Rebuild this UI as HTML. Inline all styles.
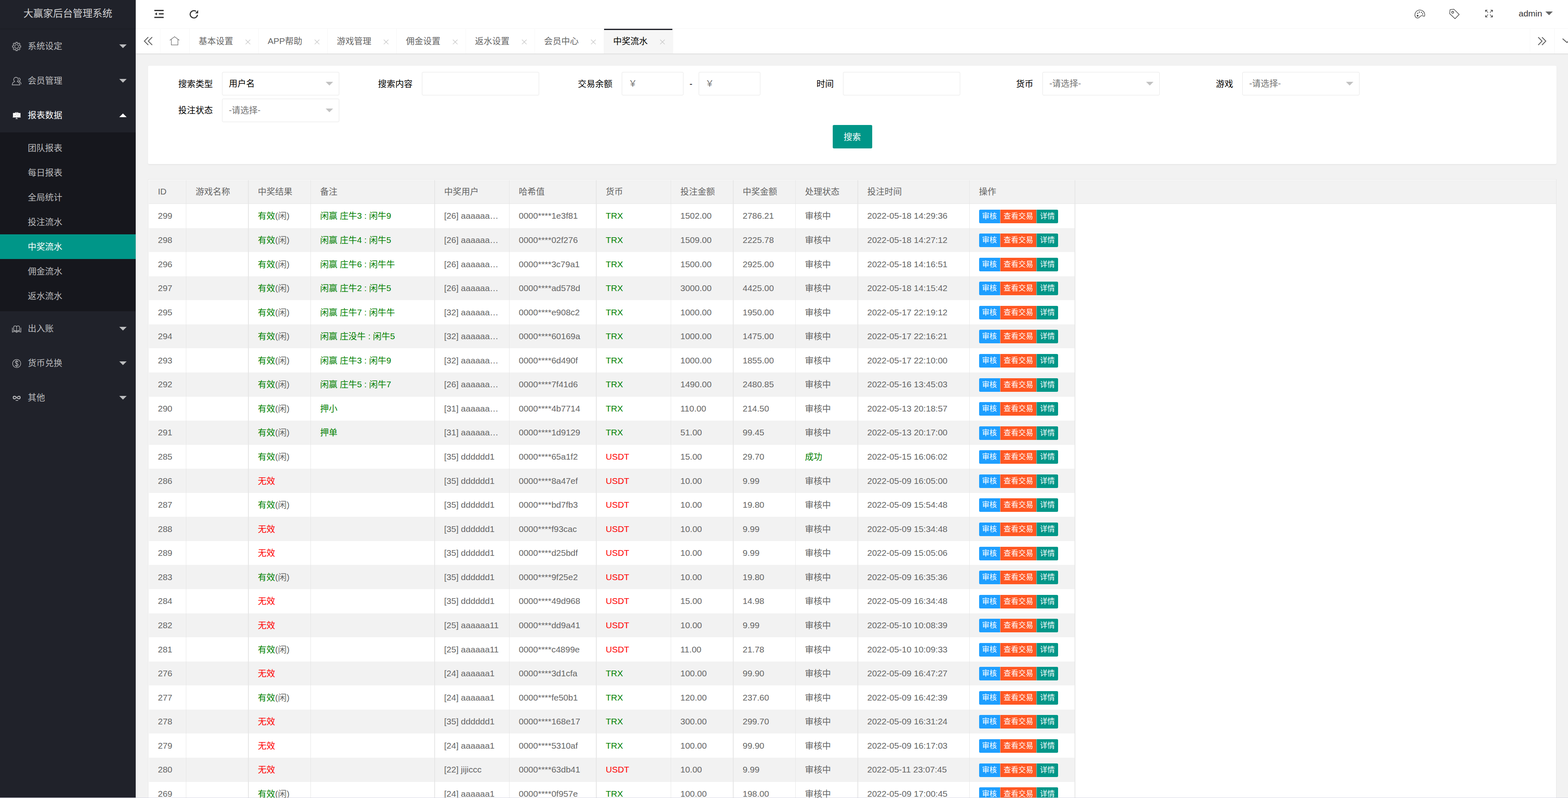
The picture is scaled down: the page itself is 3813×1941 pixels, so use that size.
<!DOCTYPE html>
<html lang="zh">
<head>
<meta charset="utf-8">
<title>大赢家后台管理系统</title>
<style>
html,body{margin:0;padding:0}
body{width:3813px;height:1941px;overflow:hidden;position:relative;background:#f2f2f2;font-family:"Liberation Sans","Noto Sans CJK SC",sans-serif}
#wrap{position:absolute;left:0;top:-5px;width:3840px;height:1950px}
#root{position:absolute;left:0;top:0;width:2560px;height:1300px;zoom:1.5;font-size:14px;line-height:24px;color:#333;background:#f2f2f2;overflow:hidden}
#root *{box-sizing:border-box}
a{text-decoration:none;color:inherit}
/* side */
#side{position:absolute;left:0;top:0;width:220px;height:1300px;background:#20222a;z-index:5;box-shadow:1px 0 2px 0 rgba(0,0,0,.05)}
#logo{position:absolute;left:0;top:0;width:220px;height:49px;line-height:50px;text-align:center;color:rgba(255,255,255,.8);font-size:16px;box-shadow:0 1px 2px 0 rgba(0,0,0,.15);background:#20222a;z-index:2}
.ni{position:absolute;left:0;width:220px;height:56px;line-height:56px;color:rgba(255,255,255,.7);font-size:14px}
.ni span{position:absolute;left:45px;top:0;white-space:nowrap}
.ni i{position:absolute;right:15px;top:50%;margin-top:-3px;width:0;height:0;border:6px solid transparent;border-top-color:rgba(255,255,255,.7)}
.ni.on{color:#fff}
.ni.on i{margin-top:-9px;border-top-color:transparent;border-bottom-color:#fff}
#child{position:absolute;left:0;top:218px;width:220px;height:290px;background:rgba(0,0,0,.3)}
.ci{position:absolute;left:0;width:220px;height:40px;line-height:40px;padding-left:45px;color:rgba(255,255,255,.7);white-space:nowrap}
.ci.on{background:#009688;color:#fff}
/* header */
#hd{position:absolute;left:220px;top:0;width:2340px;height:50px;background:#fff;border-bottom:1px solid #f6f6f6;z-index:3}
#admin{position:absolute;left:2242px;top:0;line-height:50px;color:#333;font-size:14px}
#acaret{position:absolute;left:2285.3px;top:22px;width:0;height:0;border:6px solid transparent;border-top-color:#666}
/* tabs */
#tabs{position:absolute;left:220px;top:50px;width:2340px;height:40px;background:#fff;box-shadow:0 1px 2px 0 rgba(0,0,0,.1);z-index:2}
.tc{position:absolute;top:0;width:40px;height:40px}
.tb{position:absolute;top:0;height:40px;line-height:40px;border-right:1px solid #f6f6f6;color:#666;white-space:nowrap;padding-left:15px;width:112px}
.tb.on{background:#f6f6f6;color:#000}
.tb.on:after{content:"";position:absolute;left:0;top:0;width:111px;height:2px;background:#20222a}
/* form card */
#card{position:absolute;left:240px;top:110px;width:2283.33px;height:159px;background:#fff;border-radius:2px;box-shadow:0 1px 2px 0 rgba(0,0,0,.05)}
.lb{position:absolute;width:110px;height:38px;line-height:20px;padding:9px 15px;text-align:right;color:#000;white-space:nowrap}
.ip{position:absolute;height:38px;line-height:36px;border:1px solid #e6e6e6;border-radius:2px;background:#fff;padding-left:10.3334px;color:#000;white-space:nowrap}
.ip.ph{color:#757575}
.ip b{position:absolute;right:9.3334px;top:50%;margin-top:-3px;width:0;height:0;border:6px solid transparent;border-top-color:#c2c2c2}
#sbtn{position:absolute;left:1109.67px;top:96px;width:64px;height:38px;line-height:38px;background:#009688;color:#fff;text-align:center;border-radius:2px;white-space:nowrap}
/* table */
#tv{position:absolute;left:240px;top:294px;width:2283px;height:1100px;border:1px solid #e6e6e6;padding:.3334px 0 0 .3334px;background:#fff;overflow:hidden}
#th{background:#f2f2f2;border-bottom:1px solid #e6e6e6;padding-bottom:.3334px;overflow:hidden}
#th table{margin-bottom:-1px}
table{border-collapse:separate;border-spacing:0;color:#666;font-size:14px}
td,th{padding:5px .3334px 6px 0;border:0 solid #e6e6e6;border-right-width:1px;font-weight:400;text-align:left;line-height:20px}
td:nth-child(even),th:nth-child(even){box-shadow:inset -.6667px 0 0 #e6e6e6}
.c{height:28px;line-height:28px;padding:0 15px;overflow:hidden;white-space:nowrap}
#tbody tr:nth-child(even){background:#f2f2f2}
#tbody td{padding:5.5834px .3334px 5.4584px 0}
.g{color:#008000}.r{color:#ff0000}
.bg{display:inline-block;vertical-align:middle;font-size:0;white-space:nowrap;position:relative;top:-.449px}
.b{display:inline-block;vertical-align:middle;height:22px;line-height:22px;padding:0 5px;font-size:12px;color:#fff;background:#009688;white-space:nowrap}
.b1{background:#1e9fff;border-radius:2px 0 0 2px}
.b2{background:#ff5722;border-left:1px solid rgba(255,255,255,.5);padding-left:5.3334px}
.b3{border-left:1px solid rgba(255,255,255,.5);padding-left:5.3334px;border-radius:0 2px 2px 0}
.w0{width:60px}.w1{width:100px}.w2{width:100px}.w3{width:200px}.w4{width:120px}.w5{width:140px}.w6{width:120px}.w7{width:100px}.w8{width:100px}.w9{width:100px}.w10{width:180px}.w11{width:170px}
</style>
</head>
<body>
<div id="wrap"><div id="root">

<div id="side">
  <div id="logo">大赢家后台管理系统</div>
  <div class="ni" style="top:50px"><span>系统设定</span><i></i></div>
  <div class="ni" style="top:106px"><span>会员管理</span><i></i></div>
  <div class="ni on" style="top:162px"><span>报表数据</span><i></i></div>
  <div id="child">
    <div class="ci" style="top:5px">团队报表</div>
    <div class="ci" style="top:45px">每日报表</div>
    <div class="ci" style="top:85px">全局统计</div>
    <div class="ci" style="top:125px">投注流水</div>
    <div class="ci on" style="top:165px">中奖流水</div>
    <div class="ci" style="top:205px">佣金流水</div>
    <div class="ci" style="top:245px">返水流水</div>
  </div>
  <div class="ni" style="top:508px"><span>出入账</span><i></i></div>
  <div class="ni" style="top:564px"><span>货币兑换</span><i></i></div>
  <div class="ni" style="top:620px"><span>其他</span><i></i></div>
  <!--SIDEICONS-->
</div>

<div id="hd">
  <!--HDICONS-->
  <div id="admin">admin</div>
  <div id="acaret"></div>
</div>

<div id="tabs">
  <div class="tc" style="left:0;border-right:1px solid #f6f6f6"></div>
  <div class="tb" style="left:40px;width:47px"></div>
  <div class="tb" style="left:87px">基本设置</div>
  <div class="tb" style="left:199px">APP帮助</div>
  <div class="tb" style="left:311px">游戏管理</div>
  <div class="tb" style="left:423px">佣金设置</div>
  <div class="tb" style="left:535px">返水设置</div>
  <div class="tb" style="left:647px">会员中心</div>
  <div class="tb on" style="left:759px">中奖流水</div>
  <div class="tc" style="left:2260px;border-left:1px solid #f6f6f6"></div>
  <div class="tc" style="left:2300px;border-left:1px solid #f6f6f6"></div>
  <!--TABICONS-->
</div>

<div id="card">
  <div class="lb" style="left:10px;top:10px">搜索类型</div>
  <div class="ip" style="left:120px;top:10px;width:190px">用户名<b></b></div>
  <div class="lb" style="left:333.89px;top:10px">搜索内容</div>
  <div class="ip" style="left:443.89px;top:10px;width:190px"></div>
  <div class="lb" style="left:657.78px;top:10px">交易余额</div>
  <div class="ip ph" style="left:767.78px;top:10px;width:100px">￥</div>
  <div class="lb" style="left:877.78px;top:10.5px;width:auto;padding:9px 0;color:#000">-</div>
  <div class="ip ph" style="left:892.44px;top:10px;width:100px">￥</div>
  <div class="lb" style="left:1016.68px;top:10px">时间</div>
  <div class="ip" style="left:1126.68px;top:10px;width:190px"></div>
  <div class="lb" style="left:1340.22px;top:10px">货币</div>
  <div class="ip ph" style="left:1450.22px;top:10px;width:190px">-请选择-<b></b></div>
  <div class="lb" style="left:1664.11px;top:10px">游戏</div>
  <div class="ip ph" style="left:1774.11px;top:10px;width:190px">-请选择-<b></b></div>
  <div class="lb" style="left:10px;top:53px">投注状态</div>
  <div class="ip ph" style="left:120px;top:53px;width:190px">-请选择-<b></b></div>
  <div id="sbtn">搜索</div>
</div>

<div id="tv">
  <div id="th"><table><thead><tr><th><div class="c w0">ID</div></th><th><div class="c w1">游戏名称</div></th><th><div class="c w2">中奖结果</div></th><th><div class="c w3">备注</div></th><th><div class="c w4">中奖用户</div></th><th><div class="c w5">哈希值</div></th><th><div class="c w6">货币</div></th><th><div class="c w7">投注金额</div></th><th><div class="c w8">中奖金额</div></th><th><div class="c w9">处理状态</div></th><th><div class="c w10">投注时间</div></th><th><div class="c w11">操作</div></th></tr></thead></table></div>
  <div id="tb"><table><tbody id="tbody">
<tr><td><div class="c w0">299</div></td><td><div class="c w1"></div></td><td><div class="c w2"><span class="g">有效</span>(闲)</div></td><td><div class="c w3"><span class="g">闲赢 庄牛3 : 闲牛9</span></div></td><td><div class="c w4">[26] aaaaaa…</div></td><td><div class="c w5">0000****1e3f81</div></td><td><div class="c w6"><span class="g">TRX</span></div></td><td><div class="c w7">1502.00</div></td><td><div class="c w8">2786.21</div></td><td><div class="c w9">审核中</div></td><td><div class="c w10">2022-05-18 14:29:36</div></td><td><div class="c w11"><div class="bg"><a class="b b1">审核</a><a class="b b2">查看交易</a><a class="b b3">详情</a></div></div></td></tr>
<tr><td><div class="c w0">298</div></td><td><div class="c w1"></div></td><td><div class="c w2"><span class="g">有效</span>(闲)</div></td><td><div class="c w3"><span class="g">闲赢 庄牛4 : 闲牛5</span></div></td><td><div class="c w4">[26] aaaaaa…</div></td><td><div class="c w5">0000****02f276</div></td><td><div class="c w6"><span class="g">TRX</span></div></td><td><div class="c w7">1509.00</div></td><td><div class="c w8">2225.78</div></td><td><div class="c w9">审核中</div></td><td><div class="c w10">2022-05-18 14:27:12</div></td><td><div class="c w11"><div class="bg"><a class="b b1">审核</a><a class="b b2">查看交易</a><a class="b b3">详情</a></div></div></td></tr>
<tr><td><div class="c w0">296</div></td><td><div class="c w1"></div></td><td><div class="c w2"><span class="g">有效</span>(闲)</div></td><td><div class="c w3"><span class="g">闲赢 庄牛6 : 闲牛牛</span></div></td><td><div class="c w4">[26] aaaaaa…</div></td><td><div class="c w5">0000****3c79a1</div></td><td><div class="c w6"><span class="g">TRX</span></div></td><td><div class="c w7">1500.00</div></td><td><div class="c w8">2925.00</div></td><td><div class="c w9">审核中</div></td><td><div class="c w10">2022-05-18 14:16:51</div></td><td><div class="c w11"><div class="bg"><a class="b b1">审核</a><a class="b b2">查看交易</a><a class="b b3">详情</a></div></div></td></tr>
<tr><td><div class="c w0">297</div></td><td><div class="c w1"></div></td><td><div class="c w2"><span class="g">有效</span>(闲)</div></td><td><div class="c w3"><span class="g">闲赢 庄牛2 : 闲牛5</span></div></td><td><div class="c w4">[26] aaaaaa…</div></td><td><div class="c w5">0000****ad578d</div></td><td><div class="c w6"><span class="g">TRX</span></div></td><td><div class="c w7">3000.00</div></td><td><div class="c w8">4425.00</div></td><td><div class="c w9">审核中</div></td><td><div class="c w10">2022-05-18 14:15:42</div></td><td><div class="c w11"><div class="bg"><a class="b b1">审核</a><a class="b b2">查看交易</a><a class="b b3">详情</a></div></div></td></tr>
<tr><td><div class="c w0">295</div></td><td><div class="c w1"></div></td><td><div class="c w2"><span class="g">有效</span>(闲)</div></td><td><div class="c w3"><span class="g">闲赢 庄牛7 : 闲牛牛</span></div></td><td><div class="c w4">[32] aaaaaa…</div></td><td><div class="c w5">0000****e908c2</div></td><td><div class="c w6"><span class="g">TRX</span></div></td><td><div class="c w7">1000.00</div></td><td><div class="c w8">1950.00</div></td><td><div class="c w9">审核中</div></td><td><div class="c w10">2022-05-17 22:19:12</div></td><td><div class="c w11"><div class="bg"><a class="b b1">审核</a><a class="b b2">查看交易</a><a class="b b3">详情</a></div></div></td></tr>
<tr><td><div class="c w0">294</div></td><td><div class="c w1"></div></td><td><div class="c w2"><span class="g">有效</span>(闲)</div></td><td><div class="c w3"><span class="g">闲赢 庄没牛 : 闲牛5</span></div></td><td><div class="c w4">[32] aaaaaa…</div></td><td><div class="c w5">0000****60169a</div></td><td><div class="c w6"><span class="g">TRX</span></div></td><td><div class="c w7">1000.00</div></td><td><div class="c w8">1475.00</div></td><td><div class="c w9">审核中</div></td><td><div class="c w10">2022-05-17 22:16:21</div></td><td><div class="c w11"><div class="bg"><a class="b b1">审核</a><a class="b b2">查看交易</a><a class="b b3">详情</a></div></div></td></tr>
<tr><td><div class="c w0">293</div></td><td><div class="c w1"></div></td><td><div class="c w2"><span class="g">有效</span>(闲)</div></td><td><div class="c w3"><span class="g">闲赢 庄牛3 : 闲牛9</span></div></td><td><div class="c w4">[32] aaaaaa…</div></td><td><div class="c w5">0000****6d490f</div></td><td><div class="c w6"><span class="g">TRX</span></div></td><td><div class="c w7">1000.00</div></td><td><div class="c w8">1855.00</div></td><td><div class="c w9">审核中</div></td><td><div class="c w10">2022-05-17 22:10:00</div></td><td><div class="c w11"><div class="bg"><a class="b b1">审核</a><a class="b b2">查看交易</a><a class="b b3">详情</a></div></div></td></tr>
<tr><td><div class="c w0">292</div></td><td><div class="c w1"></div></td><td><div class="c w2"><span class="g">有效</span>(闲)</div></td><td><div class="c w3"><span class="g">闲赢 庄牛5 : 闲牛7</span></div></td><td><div class="c w4">[26] aaaaaa…</div></td><td><div class="c w5">0000****7f41d6</div></td><td><div class="c w6"><span class="g">TRX</span></div></td><td><div class="c w7">1490.00</div></td><td><div class="c w8">2480.85</div></td><td><div class="c w9">审核中</div></td><td><div class="c w10">2022-05-16 13:45:03</div></td><td><div class="c w11"><div class="bg"><a class="b b1">审核</a><a class="b b2">查看交易</a><a class="b b3">详情</a></div></div></td></tr>
<tr><td><div class="c w0">290</div></td><td><div class="c w1"></div></td><td><div class="c w2"><span class="g">有效</span>(闲)</div></td><td><div class="c w3"><span class="g">押小</span></div></td><td><div class="c w4">[31] aaaaaa…</div></td><td><div class="c w5">0000****4b7714</div></td><td><div class="c w6"><span class="g">TRX</span></div></td><td><div class="c w7">110.00</div></td><td><div class="c w8">214.50</div></td><td><div class="c w9">审核中</div></td><td><div class="c w10">2022-05-13 20:18:57</div></td><td><div class="c w11"><div class="bg"><a class="b b1">审核</a><a class="b b2">查看交易</a><a class="b b3">详情</a></div></div></td></tr>
<tr><td><div class="c w0">291</div></td><td><div class="c w1"></div></td><td><div class="c w2"><span class="g">有效</span>(闲)</div></td><td><div class="c w3"><span class="g">押单</span></div></td><td><div class="c w4">[31] aaaaaa…</div></td><td><div class="c w5">0000****1d9129</div></td><td><div class="c w6"><span class="g">TRX</span></div></td><td><div class="c w7">51.00</div></td><td><div class="c w8">99.45</div></td><td><div class="c w9">审核中</div></td><td><div class="c w10">2022-05-13 20:17:00</div></td><td><div class="c w11"><div class="bg"><a class="b b1">审核</a><a class="b b2">查看交易</a><a class="b b3">详情</a></div></div></td></tr>
<tr><td><div class="c w0">285</div></td><td><div class="c w1"></div></td><td><div class="c w2"><span class="g">有效</span>(闲)</div></td><td><div class="c w3"></div></td><td><div class="c w4">[35] dddddd1</div></td><td><div class="c w5">0000****65a1f2</div></td><td><div class="c w6"><span class="r">USDT</span></div></td><td><div class="c w7">15.00</div></td><td><div class="c w8">29.70</div></td><td><div class="c w9"><span class="g">成功</span></div></td><td><div class="c w10">2022-05-15 16:06:02</div></td><td><div class="c w11"><div class="bg"><a class="b b1">审核</a><a class="b b2">查看交易</a><a class="b b3">详情</a></div></div></td></tr>
<tr><td><div class="c w0">286</div></td><td><div class="c w1"></div></td><td><div class="c w2"><span class="r">无效</span></div></td><td><div class="c w3"></div></td><td><div class="c w4">[35] dddddd1</div></td><td><div class="c w5">0000****8a47ef</div></td><td><div class="c w6"><span class="r">USDT</span></div></td><td><div class="c w7">10.00</div></td><td><div class="c w8">9.99</div></td><td><div class="c w9">审核中</div></td><td><div class="c w10">2022-05-09 16:05:00</div></td><td><div class="c w11"><div class="bg"><a class="b b1">审核</a><a class="b b2">查看交易</a><a class="b b3">详情</a></div></div></td></tr>
<tr><td><div class="c w0">287</div></td><td><div class="c w1"></div></td><td><div class="c w2"><span class="g">有效</span>(闲)</div></td><td><div class="c w3"></div></td><td><div class="c w4">[35] dddddd1</div></td><td><div class="c w5">0000****bd7fb3</div></td><td><div class="c w6"><span class="r">USDT</span></div></td><td><div class="c w7">10.00</div></td><td><div class="c w8">19.80</div></td><td><div class="c w9">审核中</div></td><td><div class="c w10">2022-05-09 15:54:48</div></td><td><div class="c w11"><div class="bg"><a class="b b1">审核</a><a class="b b2">查看交易</a><a class="b b3">详情</a></div></div></td></tr>
<tr><td><div class="c w0">288</div></td><td><div class="c w1"></div></td><td><div class="c w2"><span class="r">无效</span></div></td><td><div class="c w3"></div></td><td><div class="c w4">[35] dddddd1</div></td><td><div class="c w5">0000****f93cac</div></td><td><div class="c w6"><span class="r">USDT</span></div></td><td><div class="c w7">10.00</div></td><td><div class="c w8">9.99</div></td><td><div class="c w9">审核中</div></td><td><div class="c w10">2022-05-09 15:34:48</div></td><td><div class="c w11"><div class="bg"><a class="b b1">审核</a><a class="b b2">查看交易</a><a class="b b3">详情</a></div></div></td></tr>
<tr><td><div class="c w0">289</div></td><td><div class="c w1"></div></td><td><div class="c w2"><span class="r">无效</span></div></td><td><div class="c w3"></div></td><td><div class="c w4">[35] dddddd1</div></td><td><div class="c w5">0000****d25bdf</div></td><td><div class="c w6"><span class="r">USDT</span></div></td><td><div class="c w7">10.00</div></td><td><div class="c w8">9.99</div></td><td><div class="c w9">审核中</div></td><td><div class="c w10">2022-05-09 15:05:06</div></td><td><div class="c w11"><div class="bg"><a class="b b1">审核</a><a class="b b2">查看交易</a><a class="b b3">详情</a></div></div></td></tr>
<tr><td><div class="c w0">283</div></td><td><div class="c w1"></div></td><td><div class="c w2"><span class="g">有效</span>(闲)</div></td><td><div class="c w3"></div></td><td><div class="c w4">[35] dddddd1</div></td><td><div class="c w5">0000****9f25e2</div></td><td><div class="c w6"><span class="r">USDT</span></div></td><td><div class="c w7">10.00</div></td><td><div class="c w8">19.80</div></td><td><div class="c w9">审核中</div></td><td><div class="c w10">2022-05-09 16:35:36</div></td><td><div class="c w11"><div class="bg"><a class="b b1">审核</a><a class="b b2">查看交易</a><a class="b b3">详情</a></div></div></td></tr>
<tr><td><div class="c w0">284</div></td><td><div class="c w1"></div></td><td><div class="c w2"><span class="r">无效</span></div></td><td><div class="c w3"></div></td><td><div class="c w4">[35] dddddd1</div></td><td><div class="c w5">0000****49d968</div></td><td><div class="c w6"><span class="r">USDT</span></div></td><td><div class="c w7">15.00</div></td><td><div class="c w8">14.98</div></td><td><div class="c w9">审核中</div></td><td><div class="c w10">2022-05-09 16:34:48</div></td><td><div class="c w11"><div class="bg"><a class="b b1">审核</a><a class="b b2">查看交易</a><a class="b b3">详情</a></div></div></td></tr>
<tr><td><div class="c w0">282</div></td><td><div class="c w1"></div></td><td><div class="c w2"><span class="r">无效</span></div></td><td><div class="c w3"></div></td><td><div class="c w4">[25] aaaaaa11</div></td><td><div class="c w5">0000****dd9a41</div></td><td><div class="c w6"><span class="r">USDT</span></div></td><td><div class="c w7">10.00</div></td><td><div class="c w8">9.99</div></td><td><div class="c w9">审核中</div></td><td><div class="c w10">2022-05-10 10:08:39</div></td><td><div class="c w11"><div class="bg"><a class="b b1">审核</a><a class="b b2">查看交易</a><a class="b b3">详情</a></div></div></td></tr>
<tr><td><div class="c w0">281</div></td><td><div class="c w1"></div></td><td><div class="c w2"><span class="g">有效</span>(闲)</div></td><td><div class="c w3"></div></td><td><div class="c w4">[25] aaaaaa11</div></td><td><div class="c w5">0000****c4899e</div></td><td><div class="c w6"><span class="r">USDT</span></div></td><td><div class="c w7">11.00</div></td><td><div class="c w8">21.78</div></td><td><div class="c w9">审核中</div></td><td><div class="c w10">2022-05-10 10:09:33</div></td><td><div class="c w11"><div class="bg"><a class="b b1">审核</a><a class="b b2">查看交易</a><a class="b b3">详情</a></div></div></td></tr>
<tr><td><div class="c w0">276</div></td><td><div class="c w1"></div></td><td><div class="c w2"><span class="r">无效</span></div></td><td><div class="c w3"></div></td><td><div class="c w4">[24] aaaaaa1</div></td><td><div class="c w5">0000****3d1cfa</div></td><td><div class="c w6"><span class="g">TRX</span></div></td><td><div class="c w7">100.00</div></td><td><div class="c w8">99.90</div></td><td><div class="c w9">审核中</div></td><td><div class="c w10">2022-05-09 16:47:27</div></td><td><div class="c w11"><div class="bg"><a class="b b1">审核</a><a class="b b2">查看交易</a><a class="b b3">详情</a></div></div></td></tr>
<tr><td><div class="c w0">277</div></td><td><div class="c w1"></div></td><td><div class="c w2"><span class="g">有效</span>(闲)</div></td><td><div class="c w3"></div></td><td><div class="c w4">[24] aaaaaa1</div></td><td><div class="c w5">0000****fe50b1</div></td><td><div class="c w6"><span class="g">TRX</span></div></td><td><div class="c w7">120.00</div></td><td><div class="c w8">237.60</div></td><td><div class="c w9">审核中</div></td><td><div class="c w10">2022-05-09 16:42:39</div></td><td><div class="c w11"><div class="bg"><a class="b b1">审核</a><a class="b b2">查看交易</a><a class="b b3">详情</a></div></div></td></tr>
<tr><td><div class="c w0">278</div></td><td><div class="c w1"></div></td><td><div class="c w2"><span class="r">无效</span></div></td><td><div class="c w3"></div></td><td><div class="c w4">[35] dddddd1</div></td><td><div class="c w5">0000****168e17</div></td><td><div class="c w6"><span class="g">TRX</span></div></td><td><div class="c w7">300.00</div></td><td><div class="c w8">299.70</div></td><td><div class="c w9">审核中</div></td><td><div class="c w10">2022-05-09 16:31:24</div></td><td><div class="c w11"><div class="bg"><a class="b b1">审核</a><a class="b b2">查看交易</a><a class="b b3">详情</a></div></div></td></tr>
<tr><td><div class="c w0">279</div></td><td><div class="c w1"></div></td><td><div class="c w2"><span class="r">无效</span></div></td><td><div class="c w3"></div></td><td><div class="c w4">[24] aaaaaa1</div></td><td><div class="c w5">0000****5310af</div></td><td><div class="c w6"><span class="g">TRX</span></div></td><td><div class="c w7">100.00</div></td><td><div class="c w8">99.90</div></td><td><div class="c w9">审核中</div></td><td><div class="c w10">2022-05-09 16:17:03</div></td><td><div class="c w11"><div class="bg"><a class="b b1">审核</a><a class="b b2">查看交易</a><a class="b b3">详情</a></div></div></td></tr>
<tr><td><div class="c w0">280</div></td><td><div class="c w1"></div></td><td><div class="c w2"><span class="r">无效</span></div></td><td><div class="c w3"></div></td><td><div class="c w4">[22] jijiccc</div></td><td><div class="c w5">0000****63db41</div></td><td><div class="c w6"><span class="r">USDT</span></div></td><td><div class="c w7">10.00</div></td><td><div class="c w8">9.99</div></td><td><div class="c w9">审核中</div></td><td><div class="c w10">2022-05-11 23:07:45</div></td><td><div class="c w11"><div class="bg"><a class="b b1">审核</a><a class="b b2">查看交易</a><a class="b b3">详情</a></div></div></td></tr>
<tr><td><div class="c w0">269</div></td><td><div class="c w1"></div></td><td><div class="c w2"><span class="g">有效</span>(闲)</div></td><td><div class="c w3"></div></td><td><div class="c w4">[24] aaaaaa1</div></td><td><div class="c w5">0000****0f957e</div></td><td><div class="c w6"><span class="g">TRX</span></div></td><td><div class="c w7">100.00</div></td><td><div class="c w8">198.00</div></td><td><div class="c w9">审核中</div></td><td><div class="c w10">2022-05-09 17:00:45</div></td><td><div class="c w11"><div class="bg"><a class="b b1">审核</a><a class="b b2">查看交易</a><a class="b b3">详情</a></div></div></td></tr>
  </tbody></table></div>
</div>

</div></div>
<svg id="ic" width="3813" height="1941" viewBox="0 0 3813 1941" style="position:absolute;left:0;top:0;z-index:10"><g fill="none" stroke="#bcbdbf" stroke-width="1.35" stroke-linejoin="round" stroke-linecap="round"><path d="M38.43 105.76 L38.43 102.99 L42.37 102.99 L42.37 105.76 L44.20 106.52 L46.16 104.56 L48.94 107.34 L46.98 109.30 L47.74 111.13 L50.51 111.13 L50.51 115.07 L47.74 115.07 L46.98 116.90 L48.94 118.86 L46.16 121.64 L44.20 119.68 L42.37 120.44 L42.37 123.21 L38.43 123.21 L38.43 120.44 L36.60 119.68 L34.64 121.64 L31.86 118.86 L33.82 116.90 L33.06 115.07 L30.29 115.07 L30.29 111.13 L33.06 111.13 L33.82 109.30 L31.86 107.34 L34.64 104.56 L36.60 106.52Z"/><circle cx="40.4" cy="113.1" r="4.5"/><path d="M35.9 198.3 A5.6 5.6 0 1 1 41.9 198.3 C45.5 199.3 48 202.5 48.3 206.5 L29.5 206.5 C29.8 202.5 32.3 199.3 35.9 198.3Z"/><path d="M45.6 189.6 C48 190.3 49.2 192 49.2 193.6 C49.2 195.3 48 196.8 46.2 197.6 C49 198.6 51 201.2 51.4 204.4"/><path d="M40.4 796 C40.4 793.6 38.8 792.6 37 792.6 C34.6 792.6 33.3 794 33.3 796 L33.3 804.3 C36.3 803.6 38.6 804.3 40.4 806 C42.2 804.3 44.5 803.6 47.5 804.3 L47.5 796 C47.5 794 46.2 792.6 43.8 792.6 C42 792.6 40.4 793.6 40.4 796 L40.4 806"/><path d="M30.1 797.4 L30.1 808 C34 805.6 38 806 40.4 808.8 C42.8 806 46.8 805.6 50.7 808 L50.7 797.4"/><circle cx="40.6" cy="884.3" r="9.9"/><path d="M44 880.6 C43.6 878.9 42.2 878.2 40.6 878.2 C38.6 878.2 37.2 879.3 37.2 881 C37.2 885 44.2 883.4 44.2 887.6 C44.2 889.4 42.6 890.5 40.6 890.5 C38.8 890.5 37.3 889.6 37 887.8 M40.6 876.8 L40.6 892"/></g><g fill="none" stroke="#bcbdbf" stroke-width="2.1" stroke-linejoin="round" stroke-linecap="round"><path d="M40.6 967 C38.6 964.8 37 963.9 35 963.9 C33.2 963.9 32.1 965.3 32.1 967 C32.1 968.7 33.2 970.1 35 970.1 C36.6 970.1 37.6 969.4 38.6 968.4 M40.6 967 C42.6 969.2 44.2 970.1 46.2 970.1 C48 970.1 49.1 968.7 49.1 967 C49.1 965.3 48 963.9 46.2 963.9 C44.6 963.9 43.6 964.6 42.6 965.6"/></g><rect x="38.1" y="973.2" width="6.1" height="1.6" fill="#bcbdbf"/><g fill="#fff"><rect x="31.6" y="274.8" width="18.2" height="9.8"/><rect x="30.9" y="284.4" width="19.4" height="1.4"/><path d="M36.8 274.8 L36.8 273.1 L44.4 273.1 L44.4 274.8 L43.4 274.8 L43.4 274 L37.8 274 L37.8 274.8Z"/><rect x="39.8" y="285.7" width="1.2" height="2.7"/><rect x="37.9" y="288.2" width="5.2" height="1.1"/></g><path d="M34.7 280.2 L37.2 281.6 L40.8 278.3 L43.3 280.6 L45.8 277.9" fill="none" stroke="#777" stroke-width="0.7"/><g fill="#333"><rect x="375.3" y="24" width="22.7" height="3"/><rect x="386.2" y="32.2" width="11.8" height="3"/><rect x="375.3" y="40.8" width="22.7" height="3"/><path d="M381.8 30.2 L381.8 37.4 L376.4 33.8Z"/></g><path d="M476.6 27.6 A8.9 8.9 0 1 0 480.2 36" fill="none" stroke="#333" stroke-width="2.6"/><path d="M474.6 32.4 L481.8 32.4 L481.8 24.6Z" fill="#333"/><g fill="none" stroke="#333" stroke-width="1.3" stroke-linejoin="round" stroke-linecap="round"><path d="M3452.6 24.4 C3459.5 24.4 3464.6 29.6 3464.7 36 C3464.7 38 3464 39.8 3463 39.7 C3461.4 39.4 3459.6 37.6 3457.3 37.8 C3454.2 38.1 3452.8 41.4 3450.6 42.8 C3448.6 44.1 3445.6 44.2 3443.4 42.4 C3441.3 40.7 3440.7 38.6 3440.7 36.4 C3440.8 29.6 3446 24.4 3452.6 24.4Z"/><path d="M3526.2 23.4 L3535.5 22.4 L3548.4 35.2 L3538.3 45.5 L3525.3 33.2Z"/><circle cx="3532.5" cy="29.9" r="2.4"/><path d="M3618.3 30.4 L3612.5 24.6 M3616.7 24.6 L3612.5 24.6 L3612.5 28.8"/><path d="M3623.5 30.4 L3629.3 24.6 M3625.1 24.6 L3629.3 24.6 L3629.3 28.8"/><path d="M3618.3 35.6 L3612.5 41.4 M3616.7 41.4 L3612.5 41.4 L3612.5 37.2"/><path d="M3623.5 35.6 L3629.3 41.4 M3625.1 41.4 L3629.3 41.4 L3629.3 37.2"/></g><g fill="#333"><circle cx="3447.5" cy="32.5" r="1.3"/><circle cx="3451.5" cy="29.4" r="1.3"/><circle cx="3456.6" cy="30" r="1.3"/><circle cx="3459.5" cy="33.9" r="1.3"/><circle cx="3447.3" cy="38.3" r="2.1"/></g><g fill="none" stroke="#5f5f5f" stroke-width="2.1" stroke-linecap="butt" stroke-linejoin="miter"><path d="M360.6 90.2 L351.1 99.9 L360.6 109.6 M370.1 90.2 L360.6 99.9 L370.1 109.6"/><path d="M3740.6 90.5 L3749.8 100 L3740.6 109.6 M3749.8 90.5 L3759 100 L3749.8 109.6"/><path d="M3799.9 94.1 L3810.4 103.3 L3821 94.1"/></g><g fill="none" stroke="#666" stroke-width="1.25" stroke-linejoin="miter"><path d="M412.9 98 L424.5 89.3 L436.2 98 M416.6 95.6 L416.6 109.3 L432.6 109.3 L432.6 95.6"/></g><g fill="none" stroke="#c2c2c2" stroke-width="1.2"><path d="M597.3 96.5 L608.5 107.6 M608.5 96.5 L597.3 107.6"/><path d="M765.3 96.5 L776.5 107.6 M776.5 96.5 L765.3 107.6"/><path d="M933.3 96.5 L944.5 107.6 M944.5 96.5 L933.3 107.6"/><path d="M1101.3 96.5 L1112.5 107.6 M1112.5 96.5 L1101.3 107.6"/><path d="M1269.3 96.5 L1280.5 107.6 M1280.5 96.5 L1269.3 107.6"/><path d="M1437.3 96.5 L1448.5 107.6 M1448.5 96.5 L1437.3 107.6"/><path d="M1605.3 96.5 L1616.5 107.6 M1616.5 96.5 L1605.3 107.6"/></g></svg>
<div style="position:absolute;left:0;top:1940px;width:330px;height:1px;background:#e4e4f2;z-index:11"></div><div style="position:absolute;left:330px;top:1940px;width:3483px;height:1px;background:#d5d5e1;z-index:11"></div>
</body>
</html>
